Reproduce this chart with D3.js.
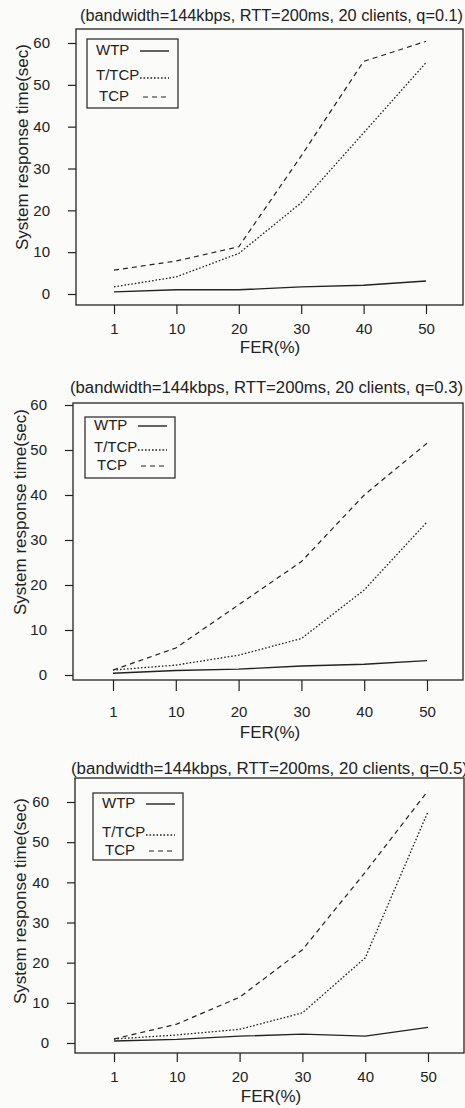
<!DOCTYPE html>
<html lang="en">
<head>
<meta charset="UTF-8" />
<title>System response time vs FER</title>
<script src="https://cdn.jsdelivr.net/npm/d3@7"></script>
<style>
  body { margin: 0; background: #fbfbfa; }
  svg { display: block; }
  text { font-family: "Liberation Sans", Arial, sans-serif; fill: #222; }
</style>
</head>
<body>
<div id="chart"></div>
<script>
// x categories (FER %)
const fer = ["1", "10", "20", "30", "40", "50"];
const yTicks = [0, 10, 20, 30, 40, 50, 60];
const seriesNames = ["WTP", "T/TCP", "TCP"];
const titles = [
  "(bandwidth=144kbps, RTT=200ms, 20 clients, q=0.1)",
  "(bandwidth=144kbps, RTT=200ms, 20 clients, q=0.3)",
  "(bandwidth=144kbps, RTT=200ms, 20 clients, q=0.5)"
];
const yTitle = "System response time(sec)";
const xTitle = "FER(%)";

// q = 0.1
const wtpQ1 = [0.5, 1.0, 1.0, 1.7, 2.1, 3.1];
const ttcpQ1 = [1.7, 4.1, 9.7, 21.8, 38.5, 55.3];
const tcpQ1 = [5.7, 7.9, 11.3, 33.0, 55.6, 60.4];
// q = 0.3
const wtpQ3 = [0.4, 1.0, 1.3, 2.0, 2.4, 3.2];
const ttcpQ3 = [1.1, 2.2, 4.4, 8.1, 18.9, 34.0];
const tcpQ3 = [1.1, 6.0, 15.6, 25.2, 40.0, 51.5];
// q = 0.5
const wtpQ5 = [0.5, 0.9, 1.7, 2.2, 1.7, 3.9];
const ttcpQ5 = [1.0, 2.0, 3.4, 7.5, 21.2, 57.6];
const tcpQ5 = [1.0, 4.7, 11.4, 23.2, 42.5, 62.8];

// line styles per series
const dashes = [null, "1.6,1.9", "5,4"];
const widths = [1.4, 1.3, 1.2];

// layout of the three stacked panels
const panels = [
  { title: titles[0], data: [wtpQ1, ttcpQ1, tcpQ1],
    frame: { x: 76, y: 29, r: 463, b: 305 }, y0: 294, y60: 43, x1: 114, x50: 426,
    titleX: 80, titleY: 20.5, titleW: 383, xPad: 9, tickLen: 9, ferY: 352.5, yTitleX: 22, yTitleY: 147,
    legend: { x: 87, y: 39, w: 91, h: 69, rows: [50, 75, 96] } },
  { title: titles[1], data: [wtpQ3, ttcpQ3, tcpQ3],
    frame: { x: 73, y: 403, r: 463, b: 680 }, y0: 675, y60: 405, x1: 113, x50: 427,
    titleX: 70, titleY: 392.5, titleW: 393, xPad: 15, tickLen: 11, ferY: 738, yTitleX: 20, yTitleY: 512,
    legend: { x: 85, y: 417, w: 90, h: 61, rows: [425, 447, 465] } },
  { title: titles[2], data: [wtpQ5, ttcpQ5, tcpQ5],
    frame: { x: 75, y: 778, r: 464, b: 1053 }, y0: 1043, y60: 802, x1: 114, x50: 428,
    titleX: 71, titleY: 773.5, titleW: 397, xPad: 9, tickLen: 9, ferY: 1101.5, yTitleX: 20, yTitleY: 901,
    legend: { x: 93, y: 793, w: 90, h: 67, rows: [803, 832, 850] } }
];

const svg = d3.select("#chart").append("svg")
  .attr("width", 465).attr("height", 1108);

panels.forEach(function (p) {
  const g = svg.append("g");
  const x = d3.scalePoint().domain(fer).range([p.x1, p.x50]);
  const y = d3.scaleLinear().domain([0, 60]).range([p.y0, p.y60]);

  // plot frame
  g.append("rect")
    .attr("x", p.frame.x).attr("y", p.frame.y)
    .attr("width", p.frame.r - p.frame.x).attr("height", p.frame.b - p.frame.y)
    .attr("fill", "none").attr("stroke", "#222").attr("stroke-width", 1.3);

  // y axis
  const ya = g.append("g")
    .attr("transform", "translate(" + p.frame.x + ",0)")
    .call(d3.axisLeft(y).tickValues(yTicks).tickSize(8).tickPadding(18));
  // x axis
  const xa = g.append("g")
    .attr("transform", "translate(0," + p.frame.b + ")")
    .call(d3.axisBottom(x).tickSize(p.tickLen).tickPadding(p.xPad));
  [ya, xa].forEach(function (a) {
    a.select(".domain").remove();
    a.attr("font-family", null).attr("font-size", null);
    a.selectAll(".tick line").attr("stroke", "#222").attr("stroke-width", 1.2);
    a.selectAll(".tick text").style("font-size", "15px").attr("fill", "#222");
  });

  // title
  g.append("text").attr("x", p.titleX).attr("y", p.titleY)
    .attr("textLength", p.titleW).attr("lengthAdjust", "spacingAndGlyphs")
    .style("font-size", "16px").text(p.title);
  // axis titles
  g.append("text")
    .attr("transform", "translate(" + (p.yTitleX + 6) + "," + p.yTitleY + ") rotate(-90)")
    .attr("text-anchor", "middle").style("font-size", "17px").text(yTitle);
  g.append("text").attr("x", (p.x1 + p.x50) / 2).attr("y", p.ferY)
    .attr("text-anchor", "middle").style("font-size", "17px").text(xTitle);

  // series lines
  const line = d3.line().x(function (d, i) { return x(fer[i]); }).y(function (d) { return y(d); });
  p.data.forEach(function (vals, k) {
    g.append("path").datum(vals)
      .attr("d", line)
      .attr("fill", "none").attr("stroke", "#222")
      .attr("stroke-width", widths[k])
      .attr("stroke-dasharray", dashes[k]);
  });

  // legend
  const L = p.legend;
  g.append("rect").attr("x", L.x).attr("y", L.y).attr("width", L.w).attr("height", L.h)
    .attr("fill", "none").attr("stroke", "#222").attr("stroke-width", 1.2);
  seriesNames.forEach(function (name, k) {
    const indent = k === 2 ? 3 : 0;
    g.append("text").attr("x", L.x + 9 + indent).attr("y", L.rows[k] + 5.3)
      .style("font-size", "15px").text(name);
    g.append("line")
      .attr("x1", L.x + (k === 2 ? 56 : 53)).attr("x2", L.x + 82)
      .attr("y1", L.rows[k] + (k === 1 ? 3 : 1)).attr("y2", L.rows[k] + (k === 1 ? 3 : 1))
      .attr("stroke", "#222").attr("stroke-width", widths[k])
      .attr("stroke-dasharray", dashes[k]);
  });
});
</script>
</body>
</html>
